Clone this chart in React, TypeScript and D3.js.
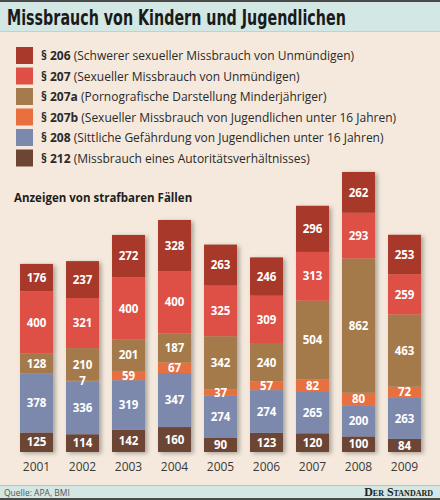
import { useLayoutEffect, useRef, useState } from 'react';
import * as d3 from 'd3';

// years on the x axis
const years = ['2001', '2002', '2003', '2004', '2005', '2006', '2007', '2008', '2009'];

// stacked bottom -> top
const p212 = [125, 114, 142, 160, 90, 123, 120, 100, 84];
const p208 = [378, 336, 319, 347, 274, 274, 265, 200, 263];
const p207b = [0, 7, 59, 67, 37, 57, 82, 80, 72];
const p207a = [128, 210, 201, 187, 342, 240, 504, 862, 463];
const p207 = [400, 321, 400, 400, 325, 309, 313, 293, 259];
const p206 = [176, 237, 272, 328, 263, 246, 296, 262, 253];

const seriesKeys = ['212', '208', '207b', '207a', '207', '206'];
const seriesValues = [p212, p208, p207b, p207a, p207, p206];
const seriesColors = ['#6d4535', '#7b89ad', '#e8703f', '#a57a4c', '#de5045', '#a8392b'];

// legend, top -> bottom
const legendKeys = ['206', '207', '207a', '207b', '208', '212'];
const legendLabels = [
  '(Schwerer sexueller Missbrauch von Unmündigen)',
  '(Sexueller Missbrauch von Unmündigen)',
  '(Pornografische Darstellung Minderjähriger)',
  '(Sexueller Missbrauch von Jugendlichen unter 16 Jahren)',
  '(Sittliche Gefährdung von Jugendlichen unter 16 Jahren)',
  '(Missbrauch eines Autoritätsverhältnisses)',
];

const W = 440;
const H = 500;
const font = "'Open Sans', 'DejaVu Sans', sans-serif";
const narrow = "'Liberation Sans Narrow', 'DejaVu Sans Condensed', sans-serif";
const titleWidth = 339;

export default function App() {
  const titleRef = useRef<SVGTextElement>(null);
  const [titleScale, setTitleScale] = useState(1);

  // squeeze the title horizontally to the reference width
  useLayoutEffect(() => {
    if (!titleRef.current) return;
    const len = titleRef.current.getComputedTextLength();
    if (len > 0) setTitleScale(titleWidth / len);
  }, []);

  const rows = years.map((y, i) => {
    const row: Record<string, number | string> = { year: y };
    seriesKeys.forEach((k, j) => (row[k] = seriesValues[j][i]));
    return row;
  });
  const stack = d3.stack<Record<string, number | string>>().keys(seriesKeys)(rows as any);

  const x = d3.scaleBand().domain(years).range([13.5, 427.5]).paddingInner(0.283).paddingOuter(0.1415);
  const y = d3.scaleLinear().domain([0, 1800]).range([452, 171.5]);
  const colorOf = d3.scaleOrdinal<string, string>().domain(seriesKeys).range(seriesColors);

  return (
    <svg width={W} height={H} style={{ position: 'absolute', left: 0, top: 0 }} fontFamily={font}>
      <defs>
        <filter id="shadow" x="-20%" y="-5%" width="150%" height="115%">
          <feDropShadow dx="2.5" dy="1.5" stdDeviation="2" floodColor="#000" floodOpacity="0.3" />
        </filter>
      </defs>
      <rect width={W} height={H} fill="#f4e9dc" />

      {/* title band */}
      <rect x={0} y={0} width={W} height={32} fill="#d3e7e4" />
      <rect x={0} y={0} width={W} height={2} fill="#4a4a4a" />
      <rect x={0} y={31} width={W} height={1} fill="#bcd3cf" />
      <g transform={`translate(7,25) scale(${titleScale},1)`}>
        <text ref={titleRef} x={0} y={0} fontFamily={narrow} fontWeight="bold" fontSize={21} fill="#1a1a1a">
          Missbrauch von Kindern und Jugendlichen
        </text>
      </g>

      {/* legend */}
      {legendKeys.map((k, i) => (
        <g key={k} transform={`translate(16,${47 + i * 20.5})`}>
          <rect width={17} height={17} fill={colorOf(k)} />
          <text x={25} y={13} fontSize={12} fill="#2a2a2a">
            <tspan fontWeight="bold">§ {k}</tspan> {legendLabels[i]}
          </text>
        </g>
      ))}

      <text x={14} y={202} fontSize={11.5} fontWeight="bold" fill="#1e1e1e">
        Anzeigen von strafbaren Fällen
      </text>

      {/* bars */}
      {years.map((yr, i) => (
        <g key={yr} filter="url(#shadow)">
          {stack.map((s) => (
            <rect
              key={s.key}
              x={x(yr)}
              y={y(s[i][1])}
              width={x.bandwidth()}
              height={y(s[i][0]) - y(s[i][1])}
              fill={colorOf(s.key)}
            />
          ))}
        </g>
      ))}
      {stack.map((s) =>
        s.map((d, i) =>
          d[1] - d[0] > 0 ? (
            <text
              key={s.key + i}
              x={(x(years[i]) ?? 0) + x.bandwidth() / 2}
              y={(y(d[0]) + y(d[1])) / 2}
              dy="0.36em"
              textAnchor="middle"
              fontSize={11.5}
              fontWeight="bold"
              fill="#fff"
            >
              {d[1] - d[0]}
            </text>
          ) : null
        )
      )}

      {years.map((yr) => (
        <text key={yr} x={(x(yr) ?? 0) + x.bandwidth() / 2} y={471} textAnchor="middle" fontSize={12} fill="#3a3a3a">
          {yr}
        </text>
      ))}

      {/* footer */}
      <rect x={0} y={485} width={W} height={15} fill="#d3e7e4" />
      <rect x={0} y={485} width={W} height={1} fill="#a9cbc6" />
      <rect x={0} y={498} width={W} height={2} fill="#4a4a4a" />
      <text x={4} y={495.5} fontSize={8.5} fill="#555">
        Quelle: APA, BMI
      </text>
      <text x={433} y={496} textAnchor="end" fontFamily="'Liberation Serif', 'DejaVu Serif', serif" fontWeight="bold" fontSize={12} fill="#222" fontVariant="small-caps">
        Der Standard
      </text>
    </svg>
  );
}
